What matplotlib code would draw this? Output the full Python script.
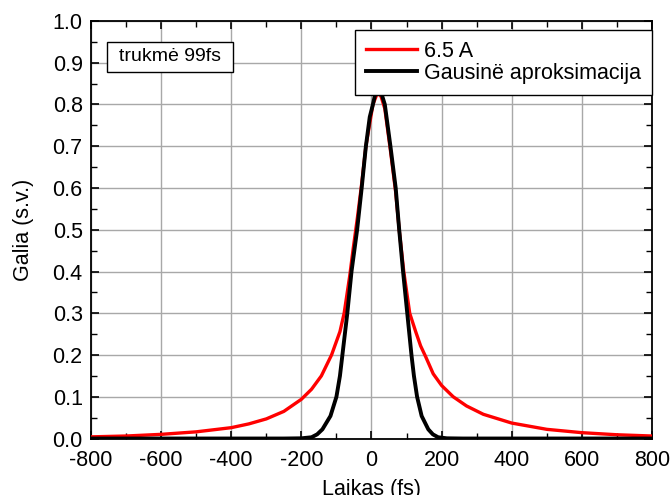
import matplotlib
matplotlib.use("Agg")
import matplotlib.pyplot as plt
from matplotlib.ticker import MultipleLocator, FormatStrFormatter
from matplotlib.patches import Rectangle

plt.rcParams['font.family'] = ['Liberation Sans', 'DejaVu Sans']
plt.rcParams['axes.unicode_minus'] = False

# Measured autocorrelation trace (6.5 A)
red_x = [-800, -700, -600, -500, -400, -350, -300, -250, -200, -171, -143, -114,
         -90, -78, -62, -52, -40, -28, -16, 4, 17, 27, 38, 54, 69, 79, 92, 109,
         126, 140, 155, 176, 200, 233, 271, 319, 400, 500, 600, 700, 800]
red_y = [0.004, 0.006, 0.010, 0.016, 0.026, 0.035, 0.047, 0.065, 0.094, 0.118,
         0.150, 0.200, 0.256, 0.300, 0.390, 0.456, 0.530, 0.610, 0.700, 0.800,
         0.828, 0.820, 0.790, 0.690, 0.590, 0.500, 0.400, 0.300, 0.256, 0.222,
         0.195, 0.155, 0.127, 0.100, 0.078, 0.058, 0.037, 0.022, 0.014, 0.009,
         0.006]

# Gaussian approximation
blk_x = [-800, -250, -200, -171, -155, -140, -117, -100, -90, -83, -69, -57,
         -41, -28, -16, -5, 4, 12, 19, 27, 38, 46, 54, 69, 79, 90, 102, 114,
         121, 130, 143, 162, 175, 190, 215, 260, 800]
blk_y = [0.0, 0.0, 0.0005, 0.003, 0.010, 0.022, 0.054, 0.100, 0.150, 0.200,
         0.300, 0.400, 0.500, 0.600, 0.700, 0.770, 0.800, 0.830, 0.838, 0.830,
         0.800, 0.750, 0.700, 0.600, 0.500, 0.400, 0.300, 0.200, 0.150, 0.100,
         0.054, 0.022, 0.010, 0.003, 0.0005, 0.0, 0.0]

red_label = "6.5 A"
blk_label = "Gausinë aproksimacija"
note = "trukmė 99fs"

FS = 15.5

fig = plt.figure(figsize=(6.71, 4.95), dpi=100)
ax = fig.add_axes([0.1356, 0.1141, 0.9717 - 0.1356, 0.9576 - 0.1141])

ax.plot(red_x, red_y, color='#ff0000', lw=2.4, label=red_label, zorder=3)
ax.plot(blk_x, blk_y, color='black', lw=2.8, label=blk_label, zorder=4)

ax.set_xlim(-800, 800)
ax.set_ylim(0, 1.0)
ax.xaxis.set_major_locator(MultipleLocator(200))
ax.xaxis.set_minor_locator(MultipleLocator(100))
ax.yaxis.set_major_locator(MultipleLocator(0.1))
ax.yaxis.set_minor_locator(MultipleLocator(0.05))
ax.yaxis.set_major_formatter(FormatStrFormatter('%.1f'))
ax.tick_params(which='both', direction='in', top=True, right=True, labelsize=FS)
ax.tick_params(which='major', length=6, width=1.2)
ax.tick_params(axis='x', which='major', pad=8)
ax.tick_params(axis='y', which='major', pad=6)
ax.tick_params(which='minor', length=4, width=1.0)
ax.grid(True, which='major', color='#a8a8a8', lw=1.0, zorder=0)
for s in ax.spines.values():
    s.set_linewidth(1.3)

ax.set_xlabel("Laikas (fs)", fontsize=FS, labelpad=6)
ax.set_ylabel("Galia (s.v.)", fontsize=FS, labelpad=13)

leg = ax.legend(loc='upper right', bbox_to_anchor=(1.0, 0.978), fontsize=FS,
                fancybox=False, framealpha=1, edgecolor='black', handlelength=2.35,
                borderpad=0.5, labelspacing=0.05, handletextpad=0.35, borderaxespad=0)
leg.get_frame().set_linewidth(1.0)

ax.add_patch(Rectangle((0.0285, 0.878), 0.2246, 0.0719, transform=ax.transAxes,
                       fc='white', ec='black', lw=1.0, zorder=5))
ax.text(0.0285 + 0.2246 / 2, 0.878 + 0.0719 / 2, note, transform=ax.transAxes,
        fontsize=14, va='center', ha='center', zorder=6)

fig.savefig("out.png", dpi=100)
